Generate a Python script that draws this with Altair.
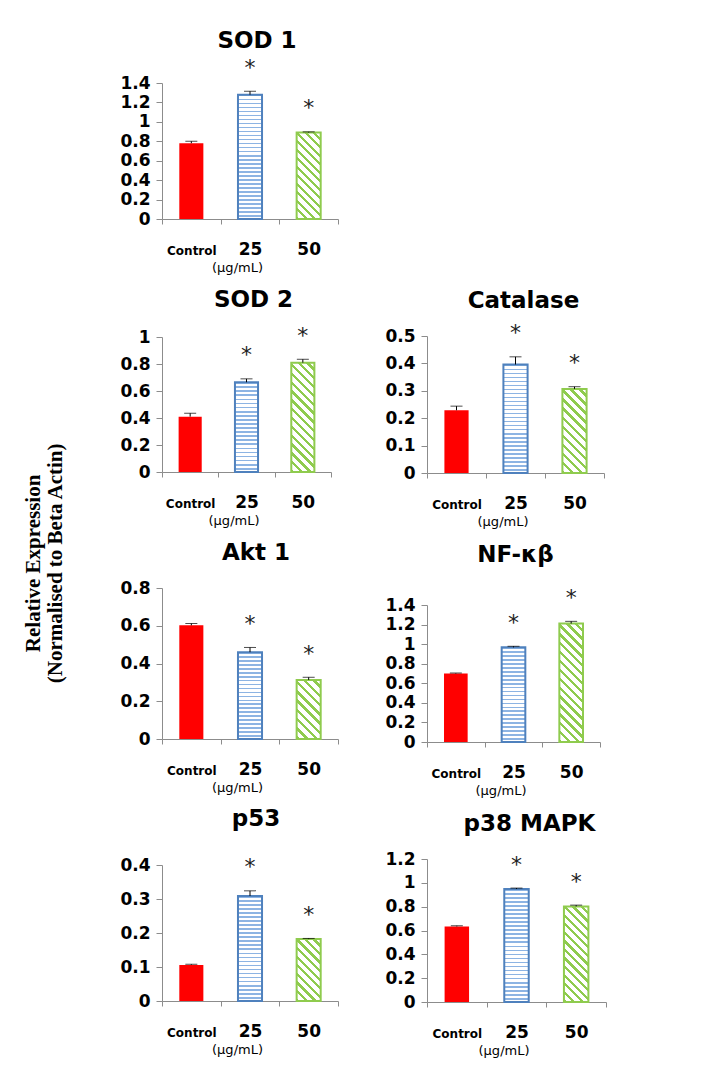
import altair as alt
import pandas as pd

# ---------------- data ----------------
doses = ["Control", "25", "50"]
stars = ["", "*", "*"]
titles = ["SOD 1", "SOD 2", "Catalase", "Akt 1", "NF-κβ", "p53", "p38 MAPK"]

sod1_mean = [0.78, 1.28, 0.89]
sod1_err = [0.02, 0.035, 0.007]
sod2_mean = [0.41, 0.665, 0.81]
sod2_err = [0.025, 0.025, 0.025]
cat_mean = [0.229, 0.396, 0.307]
cat_err = [0.015, 0.028, 0.008]
akt1_mean = [0.602, 0.46, 0.313]
akt1_err = [0.01, 0.025, 0.014]
nfkb_mean = [0.70, 0.967, 1.21]
nfkb_err = [0.005, 0.011, 0.023]
p53_mean = [0.106, 0.309, 0.182]
p53_err = [0.002, 0.015, 0.002]
p38_mean = [0.634, 0.948, 0.802]
p38_err = [0.006, 0.008, 0.011]

y_max = [1.4, 1.0, 0.5, 0.8, 1.4, 0.4, 1.2]
y_step = [0.2, 0.2, 0.1, 0.2, 0.2, 0.1, 0.2]

x_title = "(µg/mL)"
y_title = ["Relative Expression", "(Normalised to Beta Actin)"]

# ---------------- style ----------------
SANS = "DejaVu Sans"
SERIF = "Liberation Serif"
GRAY = "#8c8c8c"
RED = "#ff0000"
BLUE = "#4f81bd"
LBLUE = "#8db4e3"
GREEN = "#8fcb4e"
BAND = 0.41

widths = [176, 169, 177, 176, 173, 176, 179]
heights = [136, 135, 137, 151, 137, 136, 143]
title_off = [4, 13, 9, 14.5, 20, 25, 14.5]
title_dx = [7, 7, 8, 6, 2, 6, 13]


def stripe_stops(n, color, frac):
    stops = []
    for i in range(n):
        a = i / n
        b = (i + frac) / n
        c = (i + 1) / n
        stops += [
            alt.GradientStop(offset=a, color=color),
            alt.GradientStop(offset=b, color=color),
            alt.GradientStop(offset=b, color="white"),
            alt.GradientStop(offset=c, color="white"),
        ]
    return stops


def hgrad(h, color, period=4.0, frac=0.42):
    n = max(1, round(h / period))
    return alt.LinearGradient(gradient="linear", stops=stripe_stops(n, color, frac),
                              x1=0, y1=0, x2=0, y2=1)


def dgrad(w, h, color, period=6.2, frac=0.38):
    t = (w + h) / (w * w + h * h)
    L = (w + h) / 2 ** 0.5
    n = max(1, round(L / period))
    return alt.LinearGradient(gradient="linear", stops=stripe_stops(n, color, frac),
                              x1=0, y1=1, x2=t * w, y2=1 - t * h)


def xaxis(W):
    return alt.Axis(
        title=x_title, titleX=W / 2 - 13, titleY=48, titleFont=SANS, titleFontSize=13,
        titleFontWeight="normal", titleColor="black", titleBaseline="middle", titleAlign="center",
        labelAngle=0, labelFont=SANS, labelFontWeight="bold", labelColor="black",
        labelFontSize={"condition": {"test": "datum.label == 'Control'", "value": 12}, "value": 17},
        labelBaseline="alphabetic", labelPadding=30,
        tickBand="extent", tickSize=5, tickColor=GRAY, domainColor=GRAY, grid=False,
    )


def yaxis(ticks):
    return alt.Axis(
        values=ticks, format=".1~f", title=None, grid=False, labelFont=SANS,
        labelFontWeight="bold", labelFontSize=17, labelColor="black", labelPadding=6,
        tickSize=6, tickColor=GRAY, domainColor=GRAY, labelOverlap=False, labelFlush=False,
    )


def panel(i, mean, err):
    W, H = widths[i], heights[i]
    ymax, step = y_max[i], y_step[i]
    ticks = [round(k * step, 2) for k in range(int(round(ymax / step)) + 1)]
    df = pd.DataFrame({"dose": doses, "mean": mean, "err": err, "star": stars})
    base = alt.Chart(df).transform_calculate(top="datum.mean + datum.err")
    x = alt.X("dose:N", sort=doses,
              scale=alt.Scale(domain=doses, paddingInner=0, paddingOuter=0), axis=xaxis(W))
    ysc = alt.Scale(domain=[0, ymax], nice=False, zero=True)
    yax = yaxis(ticks)
    y = alt.Y("mean:Q", scale=ysc, axis=yax)
    ytop = alt.Y("top:Q", scale=ysc, axis=yax)
    bw = W / 3 * BAND
    h25 = mean[1] / ymax * H
    h50 = mean[2] / ymax * H

    ctrl = base.transform_filter("datum.dose == 'Control'").mark_bar(
        fill=RED, width=alt.RelativeBandSize(band=BAND)).encode(x=x, y=y)
    b25 = base.transform_filter("datum.dose == '25'").mark_bar(
        fill=hgrad(h25, LBLUE), stroke=BLUE, strokeWidth=2,
        width=alt.RelativeBandSize(band=BAND)).encode(x=x, y=y)
    b50 = base.transform_filter("datum.dose == '50'").mark_bar(
        fill=dgrad(bw, h50, GREEN), stroke=GREEN, strokeWidth=2,
        width=alt.RelativeBandSize(band=BAND)).encode(x=x, y=y)
    erule = base.mark_rule(color="black", strokeWidth=1).encode(x=x, y=y, y2="top:Q")
    cap = base.mark_tick(color="black", thickness=1, size=12).encode(x=x, y=ytop)
    star = base.mark_text(font=SANS, fontSize=22, color="#222222", baseline="alphabetic",
                          dy=-16.5).encode(x=x, y=ytop, text="star:N")
    return alt.layer(ctrl, b25, b50, erule, cap, star).properties(
        width=W, height=H,
        title=alt.TitleParams(text=titles[i], font=SANS, fontSize=23, fontWeight="bold",
                              color="black", offset=title_off[i], frame="group",
                              anchor="middle", dx=title_dx[i]),
    )


p = [
    panel(0, sod1_mean, sod1_err),
    panel(1, sod2_mean, sod2_err),
    panel(2, cat_mean, cat_err),
    panel(3, akt1_mean, akt1_err),
    panel(4, nfkb_mean, nfkb_err),
    panel(5, p53_mean, p53_err),
    panel(6, p38_mean, p38_err),
]

# empty block that holds the place of the missing top-right panel
spacer = alt.Chart(pd.DataFrame({"blank": [""]})).mark_text().encode(
    text="blank:N").properties(width=widths[2], height=192)

left_col = alt.vconcat(p[0], p[1], p[3], p[5], spacing=14)
right_col = alt.vconcat(spacer, p[2], p[4], p[6], spacing=15)

chart = alt.hconcat(left_col, right_col, spacing=45).properties(
    title=alt.TitleParams(text=y_title, orient="left", anchor="middle", font=SERIF,
                          fontSize=21, fontWeight="bold", color="black", lineHeight=22,
                          offset=54, dx=-20),
    padding={"left": 14, "top": 21, "right": 5, "bottom": 5},
).configure_view(stroke=None)

chart.save("out.html", embed_options={"renderer": "svg", "actions": False})
